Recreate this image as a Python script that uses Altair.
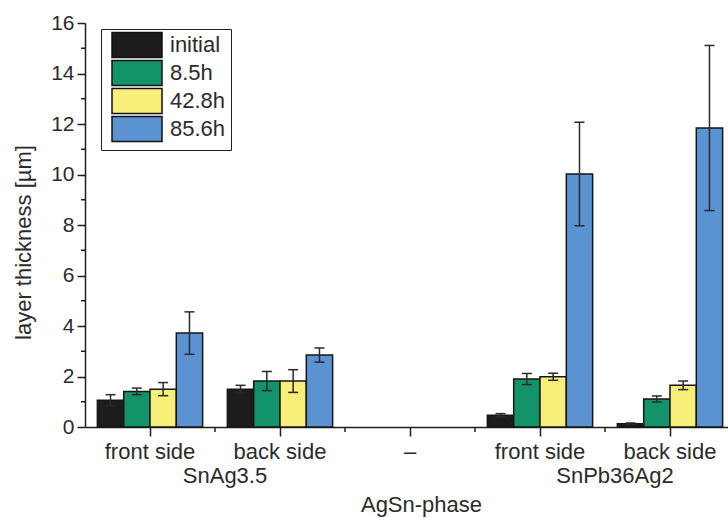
import altair as alt
import pandas as pd

# ---- data ----
categories = ["SnAg3.5|front", "SnAg3.5|back", "AgSn|none", "SnPb36Ag2|front", "SnPb36Ag2|back"]
category_labels = ["front side", "back side", "–", "front side", "back side"]
group_names = ["SnAg3.5", "SnPb36Ag2"]
group_keys = ["SnAg3.5|back", "SnPb36Ag2|back"]   # group label sits at the start of this category
series = ["initial", "8.5h", "42.8h", "85.6h"]
colors = ["#1e1b1c", "#13936a", "#f8ef7b", "#5a92d2"]

values_initial = [1.06, 1.50, None, 0.47, 0.13]
values_8_5h = [1.41, 1.82, None, 1.90, 1.11]
values_42_8h = [1.50, 1.82, None, 1.99, 1.65]
values_85_6h = [3.72, 2.85, None, 10.02, 11.84]

err_initial = [0.22, 0.15, None, 0.06, 0.03]
err_8_5h = [0.13, 0.38, None, 0.22, 0.12]
err_42_8h = [0.26, 0.45, None, 0.14, 0.17]
err_85_6h = [0.84, 0.28, None, 2.05, 3.27]

y_major = [0, 2, 4, 6, 8, 10, 12, 14, 16]
y_minor = [1, 3, 5, 7, 9, 11, 13, 15]

FONT = "Liberation Sans"
TXT = "#2b2b2b"
INK = "#1f1f1f"

rows = []
for s, vs, es in zip(series, [values_initial, values_8_5h, values_42_8h, values_85_6h],
                     [err_initial, err_8_5h, err_42_8h, err_85_6h]):
    for c, v, e in zip(categories, vs, es):
        if v is not None:
            rows.append({"cat": c, "series": s, "value": v, "err": e})
df = pd.DataFrame(rows)

label_expr = "[" + ",".join("'%s'" % l for l in category_labels) + "][indexof([" + \
    ",".join("'%s'" % c for c in categories) + "], datum.value)]"

x_scale = alt.Scale(domain=categories, paddingInner=0, paddingOuter=0)
x_axis = alt.Axis(labelExpr=label_expr, labelFontSize=22, labelFont=FONT, labelColor=TXT,
                  labelBaseline="alphabetic", labelPadding=22, tickSize=9, tickWidth=1.5,
                  tickColor=INK, domainColor=INK, domainWidth=1.5, labelAngle=0,
                  title="AgSn-phase", titleFontSize=22, titleFont=FONT, titleColor=TXT,
                  titleFontWeight="normal", titleX=336, titleY=84, titleBaseline="alphabetic",
                  titleAlign="center", grid=False)
y_scale = alt.Scale(domain=[0, 16], nice=False)
y_axis = alt.Axis(values=y_major, labelFontSize=21, labelFont=FONT, labelColor=TXT,
                  labelPadding=3, tickSize=8, tickWidth=1.5, tickColor=INK, domainColor=INK,
                  domainWidth=1.5, title="layer thickness [µm]", titleFontSize=22,
                  titleFont=FONT, titleColor=TXT, titleFontWeight="normal", titleX=-55,
                  titleY=219, titleBaseline="alphabetic", titleAlign="center", grid=False)
xoff = alt.XOffset("series:N", scale=alt.Scale(domain=series, paddingInner=0, paddingOuter=0.47))

legend = alt.Legend(title=None, orient="none", legendX=16, legendY=6,
                    symbolType="M-5,-2.5H5V2.5H-5Z", symbolSize=100,
                    symbolStrokeColor="#111111", symbolStrokeWidth=1.5, symbolOpacity=1,
                    symbolOffset=20, labelOffset=22, labelFontSize=22, labelFont=FONT,
                    labelColor=TXT, padding=5, strokeColor="#222222", fillColor="white",
                    rowPadding=-4)

base = alt.Chart(df)
bars = base.mark_bar(stroke="#161616", strokeWidth=1.5).encode(
    x=alt.X("cat:N", scale=x_scale, axis=x_axis),
    xOffset=xoff,
    y=alt.Y("value:Q", scale=y_scale, axis=y_axis),
    color=alt.Color("series:N", scale=alt.Scale(domain=series, range=colors), legend=legend),
)
err_base = base.transform_calculate(lo="datum.value - datum.err", hi="datum.value + datum.err")
err_rule = err_base.mark_rule(color="#2a2a2a", strokeWidth=1.5).encode(
    x=alt.X("cat:N", scale=x_scale), xOffset=xoff,
    y=alt.Y("lo:Q", scale=y_scale), y2="hi:Q")
cap_hi = err_base.mark_tick(color="#2a2a2a", thickness=1.5, size=10, opacity=1).encode(
    x=alt.X("cat:N", scale=x_scale), xOffset=xoff, y=alt.Y("hi:Q", scale=y_scale))
cap_lo = err_base.mark_tick(color="#2a2a2a", thickness=1.5, size=10, opacity=1).encode(
    x=alt.X("cat:N", scale=x_scale), xOffset=xoff, y=alt.Y("lo:Q", scale=y_scale))

minor_x = alt.Chart(pd.DataFrame({"cat": categories[1:]})).mark_rule(
    color=INK, strokeWidth=1.5).encode(
    x=alt.X("cat:N", scale=x_scale, bandPosition=0),
    y=alt.value(404), y2=alt.value(409))
minor_y = alt.Chart(pd.DataFrame({"v": y_minor})).mark_rule(
    color=INK, strokeWidth=1.5).encode(
    y=alt.Y("v:Q", scale=y_scale), x=alt.value(-4), x2=alt.value(0))

group_text = alt.Chart(pd.DataFrame({"cat": group_keys, "name": group_names})).mark_text(
    dx=10, baseline="alphabetic", align="center", fontSize=22, font=FONT, color=TXT).encode(
    x=alt.X("cat:N", scale=x_scale, bandPosition=0),
    y=alt.value(460), text="name:N")

chart = alt.layer(bars, err_rule, cap_hi, cap_lo, minor_x, minor_y, group_text).properties(
    width=650, height=404,
    padding={"left": 85, "top": 23, "right": -7, "bottom": 91},
    autosize=alt.AutoSizeParams(type="none"),
).configure_view(stroke=None)

chart.save("out.html", embed_options={"renderer": "svg", "actions": False})
